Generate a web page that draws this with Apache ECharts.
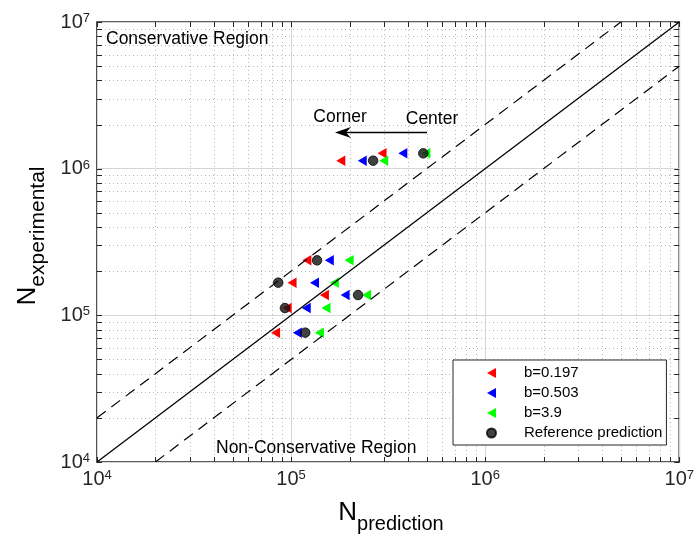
<!DOCTYPE html>
<html>
<head>
<meta charset="utf-8">
<script src="https://cdn.jsdelivr.net/npm/echarts@6/dist/echarts.min.js"></script>
<style>
  html, body { margin: 0; padding: 0; background: #fff; }
  #chart { width: 697px; height: 545px; }
</style>
</head>
<body>
<div id="chart"></div>
<script>
// Experimental fatigue lives, one entry per test group
const nExperimental = [1.272e6, 1.134e6, 2.371e5, 1.671e5, 1.375e5, 1.121e5, 7.62e4];
// Predicted lives for the same groups
const predB0197 = [2.943e5, 1.804e5, 1.206e5, 1.012e5, 1.485e5, 9.54e4, 8.318e4];
const predB0503 = [3.765e5, 2.327e5, 1.574e5, 1.320e5, 1.899e5, 1.197e5, 1.077e5];
const predB39   = [4.948e5, 3.002e5, 1.991e5, 1.670e5, 2.447e5, 1.513e5, 1.400e5];
const predRef   = [4.799e5, 2.647e5, 1.361e5, 8.585e4, 2.213e5, 9.29e4, 1.183e5];

const seriesNames = ['b=0.197', 'b=0.503', 'b=3.9', 'Reference prediction'];
const seriesColors = ['#ff0000', '#0000ff', '#00ff00'];
const axisMin = 1e4;
const axisMax = 1e7;
const scatterBand = 2;               // factor-of-two scatter band
const decadeExponents = [4, 5, 6, 7]; // tick labels 10^4 ... 10^7

const FONT = 'Liberation Sans, Arial, Helvetica, sans-serif';
const TICK_LEN = 5;
const LEFT_TRIANGLE = 'path://M0,5 L9,0 L9,10 Z';

// all log ticks (1..9 x 10^k) between the axis limits
const logTicks = [];
for (let i = 0; i < decadeExponents.length - 1; i++) {
  for (let m = 1; m < 10; m++) logTicks.push(m * Math.pow(10, decadeExponents[i]));
}
logTicks.push(axisMax);

function isDecade(v) {
  const l = Math.log10(v);
  return Math.abs(l - Math.round(l)) < 1e-9;
}
function crisp(p) { return Math.round(p) + 0.5; }

// vertical minor grid lines + tick marks on bottom/top edges
function renderXMarks(params, api) {
  const cs = params.coordSys;
  const v = api.value(0);
  const x = crisp(api.coord([v, axisMin])[0]);
  const top = cs.y, bottom = cs.y + cs.height;
  const children = [];
  if (!isDecade(v)) {
    children.push({ type: 'line', shape: { x1: x, y1: top, x2: x, y2: bottom },
      style: { stroke: '#b8b8b8', lineWidth: 1, lineDash: [1, 3] }, silent: true });
  }
  children.push({ type: 'line', shape: { x1: x, y1: bottom, x2: x, y2: bottom - TICK_LEN },
    style: { stroke: '#262626', lineWidth: 1 }, silent: true });
  children.push({ type: 'line', shape: { x1: x, y1: top, x2: x, y2: top + TICK_LEN },
    style: { stroke: '#262626', lineWidth: 1 }, silent: true });
  return { type: 'group', children };
}

// horizontal minor grid lines + tick marks on left/right edges
function renderYMarks(params, api) {
  const cs = params.coordSys;
  const v = api.value(1);
  const y = crisp(api.coord([axisMin, v])[1]);
  const left = cs.x, right = cs.x + cs.width;
  const children = [];
  if (!isDecade(v)) {
    children.push({ type: 'line', shape: { x1: left, y1: y, x2: right, y2: y },
      style: { stroke: '#b8b8b8', lineWidth: 1, lineDash: [1, 3] }, silent: true });
  }
  children.push({ type: 'line', shape: { x1: left, y1: y, x2: left + TICK_LEN, y2: y },
    style: { stroke: '#262626', lineWidth: 1 }, silent: true });
  children.push({ type: 'line', shape: { x1: right, y1: y, x2: right - TICK_LEN, y2: y },
    style: { stroke: '#262626', lineWidth: 1 }, silent: true });
  return { type: 'group', children };
}

function powerLabel(v) {
  return '{b|10}{s|' + Math.round(Math.log10(v)) + '}';
}
const powerRich = {
  b: { fontSize: 20, lineHeight: 20, padding: [4, 0, 4, 0], fontFamily: FONT, color: '#262626' },
  s: { fontSize: 13, lineHeight: 13, verticalAlign: 'top', fontFamily: FONT, color: '#262626' }
};

function pairs(xs) { return xs.map((x, i) => [x, nExperimental[i]]); }

const triangleSize = [10.5, 9];
function triangleSeries(name, xs, color) {
  return {
    name, type: 'scatter', data: pairs(xs),
    symbol: 'triangle', symbolRotate: 90, symbolSize: triangleSize,
    itemStyle: { color, opacity: 1 }, z: 3, silent: true
  };
}

const chart = echarts.init(document.getElementById('chart'), null, { renderer: 'canvas' });

const option = {
  animation: false,
  backgroundColor: '#fff',
  grid: { left: 97, top: 22, width: 589, height: 440, show: true,
          borderColor: '#262626', borderWidth: 1.6, backgroundColor: 'transparent' },
  xAxis: {
    type: 'log', logBase: 10, min: axisMin, max: axisMax,
    axisLine: { show: false }, axisTick: { show: false },
    splitLine: { show: true, lineStyle: { color: '#d6d6d6', width: 1 } },
    axisLabel: { formatter: powerLabel, rich: powerRich, margin: 7, showMinLabel: true, showMaxLabel: true }
  },
  yAxis: {
    type: 'log', logBase: 10, min: axisMin, max: axisMax,
    axisLine: { show: false }, axisTick: { show: false },
    splitLine: { show: true, lineStyle: { color: '#d6d6d6', width: 1 } },
    axisLabel: { formatter: powerLabel, rich: powerRich, margin: 7, showMinLabel: true, showMaxLabel: true }
  },
  legend: {
    data: [
      { name: seriesNames[0], icon: LEFT_TRIANGLE },
      { name: seriesNames[1], icon: LEFT_TRIANGLE },
      { name: seriesNames[2], icon: LEFT_TRIANGLE },
      { name: seriesNames[3], icon: 'circle' }
    ],
    orient: 'vertical', left: 453, top: 360,
    padding: [5, 4, 4, 33], itemWidth: 9, itemHeight: 10.5, itemGap: 4,
    symbolRotate: 0,
    backgroundColor: '#fff', borderColor: '#262626', borderWidth: 1,
    formatter: name => '{gap| }' + name,
    textStyle: { fontSize: 15, lineHeight: 16, color: '#000', fontFamily: FONT,
                 rich: { gap: { width: 23, fontSize: 15, lineHeight: 16 } } },
    selectedMode: false
  },
  series: [
    { type: 'custom', name: 'xmarks', renderItem: renderXMarks, silent: true, z: 1,
      data: logTicks.map(v => [v, axisMin * 10]) },
    { type: 'custom', name: 'ymarks', renderItem: renderYMarks, silent: true, z: 1,
      data: logTicks.map(v => [axisMin * 10, v]) },
    triangleSeries(seriesNames[0], predB0197, seriesColors[0]),
    triangleSeries(seriesNames[1], predB0503, seriesColors[1]),
    triangleSeries(seriesNames[2], predB39, seriesColors[2]),
    {
      name: seriesNames[3], type: 'scatter', data: pairs(predRef),
      symbol: 'circle', symbolSize: 9.5,
      itemStyle: { color: '#111', borderColor: '#000', borderWidth: 1 }, z: 4, silent: true
    },
    // perfect-agreement line
    { type: 'line', name: 'ideal', data: [[axisMin, axisMin], [axisMax, axisMax]],
      symbol: 'none', lineStyle: { color: '#000', width: 1.3 }, z: 5, silent: true },
    // factor-of-two scatter band
    { type: 'line', name: 'upper', data: [[axisMin, axisMin * scatterBand], [axisMax / scatterBand, axisMax]],
      symbol: 'none', lineStyle: { color: '#000', width: 1.2, type: [11, 7] }, z: 5, silent: true },
    { type: 'line', name: 'lower', data: [[axisMin * scatterBand, axisMin], [axisMax, axisMax / scatterBand]],
      symbol: 'none', lineStyle: { color: '#000', width: 1.2, type: [11, 7] }, z: 5, silent: true }
  ],
  graphic: [
    { type: 'text', left: 106, top: 30, z: 10, silent: true,
      style: { text: 'Conservative Region', fontSize: 17.5, fontFamily: FONT, fill: '#000' } },
    { type: 'text', left: 216, top: 439, z: 10, silent: true,
      style: { text: 'Non-Conservative Region', fontSize: 17.5, fontFamily: FONT, fill: '#000' } },
    { type: 'text', x: 340, y: 117, z: 10, silent: true,
      style: { text: 'Corner', fontSize: 17.5, fontFamily: FONT, fill: '#000', align: 'center', verticalAlign: 'middle' } },
    { type: 'text', x: 432, y: 119, z: 10, silent: true,
      style: { text: 'Center', fontSize: 17.5, fontFamily: FONT, fill: '#000', align: 'center', verticalAlign: 'middle' } },
    // arrow from Center toward Corner
    { type: 'line', z: 10, silent: true,
      shape: { x1: 427, y1: 132.5, x2: 346, y2: 132.5 }, style: { stroke: '#000', lineWidth: 1.5 } },
    { type: 'polygon', z: 10, silent: true,
      shape: { points: [[335, 132.5], [351, 127], [346, 132.5], [351, 138]] }, style: { fill: '#000' } },
    // axis titles
    { type: 'text', x: 391, y: 500, z: 10, silent: true,
      style: {
        text: '{n|N}{s|prediction}', align: 'center', verticalAlign: 'top',
        rich: {
          n: { fontSize: 26, lineHeight: 28, verticalAlign: 'top', fontFamily: FONT, fill: '#000' },
          s: { fontSize: 20, lineHeight: 20, padding: [20, 0, 0, 0], fontFamily: FONT, fill: '#000' }
        }
      } },
    { type: 'text', x: 29, y: 236, rotation: Math.PI / 2, z: 10, silent: true,
      style: {
        text: '{n|N}{s|experimental}', align: 'center', verticalAlign: 'middle',
        rich: {
          n: { fontSize: 26, lineHeight: 28, verticalAlign: 'top', fontFamily: FONT, fill: '#000' },
          s: { fontSize: 21, lineHeight: 21, padding: [19, 0, 0, 0], fontFamily: FONT, fill: '#000' }
        }
      } }
  ]
};

chart.setOption(option);
</script>
</body>
</html>
